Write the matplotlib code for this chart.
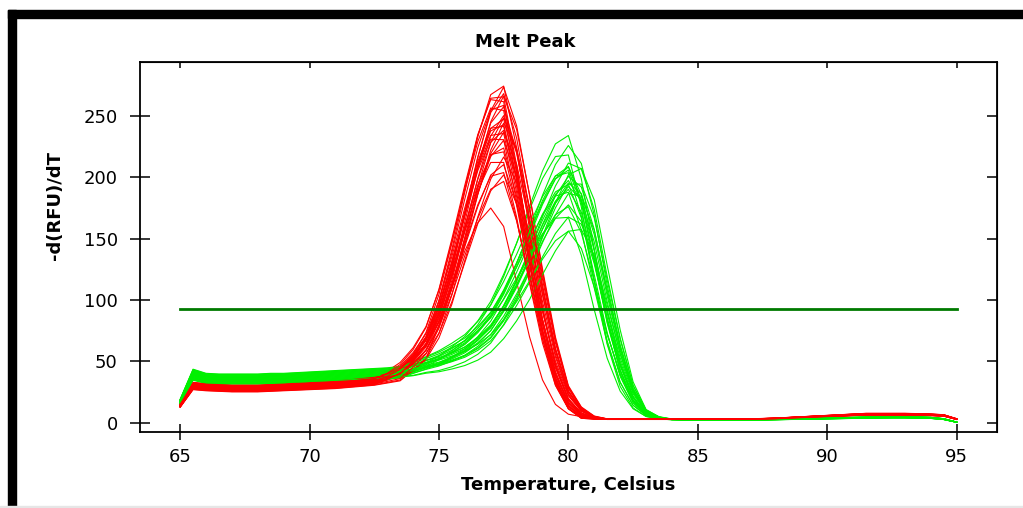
import numpy as np
import matplotlib.pyplot as plt
from matplotlib.patches import Rectangle

# temperature grid of the melt (0.5 C steps)
temps = [65.0, 65.5, 66.0, 66.5, 67.0, 67.5, 68.0, 68.5, 69.0, 69.5,
         70.0, 70.5, 71.0, 71.5, 72.0, 72.5, 73.0, 73.5, 74.0, 74.5,
         75.0, 75.5, 76.0, 76.5, 77.0, 77.5, 78.0, 78.5, 79.0, 79.5,
         80.0, 80.5, 81.0, 81.5, 82.0, 82.5, 83.0, 83.5, 84.0, 84.5,
         85.0, 85.5, 86.0, 86.5, 87.0, 87.5, 88.0, 88.5, 89.0, 89.5,
         90.0, 90.5, 91.0, 91.5, 92.0, 92.5, 93.0, 93.5, 94.0, 94.5,
         95.0]

# red wells: background and peak profiles
red_base = [14, 30, 29, 28.5, 28, 28, 28, 28.5, 29, 29.5,
            30, 30.5, 31, 32, 33, 34, 36, 38, 40, 38,
            34, 30, 26, 22, 18, 14, 11, 8, 6, 5,
            4, 3.5, 3, 3, 3, 3, 3, 3, 3, 3,
            3, 3, 3, 3, 3, 3.2, 3.5, 4, 4.5, 5,
            5.5, 6, 6.5, 7, 7, 7, 7, 6.8, 6.5, 6,
            3]
red_peak_a = [0, 0, 0, 0, 0, 0, 0, 0, 0, 0,
              0, 0, 0, 0, 0, 0, 0.01, 0.03, 0.07, 0.15,
              0.29, 0.47, 0.66, 0.84, 0.97, 0.98, 0.76, 0.50, 0.27, 0.11,
              0.03, 0, 0, 0, 0, 0, 0, 0, 0, 0,
              0, 0, 0, 0, 0, 0, 0, 0, 0, 0,
              0, 0, 0, 0, 0, 0, 0, 0, 0, 0,
              0]
red_peak_b = [0, 0, 0, 0, 0, 0, 0, 0, 0, 0,
              0, 0, 0, 0, 0, 0, 0, 0, 0.03, 0.08,
              0.18, 0.33, 0.52, 0.71, 0.88, 0.99, 0.91, 0.72, 0.49, 0.27,
              0.11, 0.04, 0.01, 0, 0, 0, 0, 0, 0, 0,
              0, 0, 0, 0, 0, 0, 0, 0, 0, 0,
              0, 0, 0, 0, 0, 0, 0, 0, 0, 0,
              0]
red_amp = [266, 262, 257, 254, 250, 247, 244, 240, 237, 234,
           231, 228, 225, 222, 218, 214, 210, 206, 202, 198,
           194, 190, 186, 252, 238, 226, 258, 232]
red_level = [0.92, 1.05, 0.97, 1.08, 0.94, 1.0, 1.1, 0.95, 1.03, 0.9,
             1.06, 0.98, 1.02, 0.93, 1.07, 0.96, 1.04, 0.91, 1.0, 1.09,
             0.95, 1.02, 0.97, 1.05, 0.93, 1.0, 0.98, 1.06]
red_mix = [0.3, 0.8, 0.1, 0.9, 0.2, 0.6, 0.0, 0.75, 0.4, 1.0,
           0.15, 0.5, 0.85, 0.05, 0.7, 0.35, 0.2, 0.95, 0.1, 0.55,
           0.25, 0.8, 0.45, 0.0, 0.9, 0.15, 0.65, 0.3]
# one low red well that peaks early
red_low = [13, 30, 29, 28.5, 28, 28, 28, 28.5, 29, 29.5,
           30, 30.5, 31, 32, 33, 34, 36, 38, 42, 52,
           80, 110, 140, 163, 175, 160, 115, 70, 35, 15,
           7, 5, 4, 3, 3, 3, 3, 3, 3, 3,
           3, 3, 3, 3, 3, 3.2, 3.5, 4, 4.5, 5,
           5.5, 6, 6.5, 7, 7, 7, 7, 6.8, 6.5, 6,
           3]

# green wells
green_base = [17, 39, 36, 35.5, 35.5, 35.5, 35.5, 36, 36, 36.5,
              37, 37.5, 38, 38.5, 39, 39.5, 40, 41, 42, 42.5,
              42, 41, 39, 37, 34, 31, 27, 23, 19, 16,
              13, 10, 8, 6, 5, 4, 3.2, 3, 2.8, 2.6,
              2.5, 2.5, 2.5, 2.5, 2.5, 2.6, 2.8, 3, 3.2, 3.4,
              3.6, 3.8, 4, 4.2, 4.4, 4.5, 4.5, 4.3, 4, 3,
              0.5]
green_peak_a = [0, 0, 0, 0, 0, 0, 0, 0, 0, 0,
                0, 0, 0, 0, 0, 0, 0, 0, 0.02, 0.04,
                0.07, 0.11, 0.16, 0.23, 0.32, 0.44, 0.58, 0.73, 0.87, 0.97,
                0.99, 0.80, 0.52, 0.28, 0.12, 0.04, 0.01, 0, 0, 0,
                0, 0, 0, 0, 0, 0, 0, 0, 0, 0,
                0, 0, 0, 0, 0, 0, 0, 0, 0, 0,
                0]
green_peak_b = [0, 0, 0, 0, 0, 0, 0, 0, 0, 0,
                0, 0, 0, 0, 0, 0, 0, 0, 0, 0.01,
                0.02, 0.04, 0.07, 0.11, 0.17, 0.26, 0.38, 0.52, 0.68, 0.83,
                0.96, 1.0, 0.88, 0.62, 0.36, 0.15, 0.04, 0.01, 0, 0,
                0, 0, 0, 0, 0, 0, 0, 0, 0, 0,
                0, 0, 0, 0, 0, 0, 0, 0, 0, 0,
                0]
green_amp = [226, 218, 208, 204, 200, 198, 196, 194, 192, 190,
             188, 186, 184, 182, 180, 176, 170, 166, 160, 155,
             150, 146, 200, 188]
green_level = [0.9, 1.08, 0.95, 1.12, 1.0, 0.92, 1.05, 0.98, 1.1, 0.94,
               1.03, 0.89, 1.07, 0.96, 1.01, 1.11, 0.93, 1.04, 0.99, 1.09,
               0.91, 1.06, 0.97, 1.02]
green_mix = [0.2, 0.6, 0.0, 0.8, 0.4, 1.0, 0.3, 0.7, 0.1, 0.5,
             0.9, 0.25, 0.65, 0.45, 0.85, 0.15, 0.55, 0.35, 0.75, 0.05,
             0.95, 0.5, 0.3, 0.7]

threshold = 93
x_ticks = [65, 70, 75, 80, 85, 90, 95]
y_ticks = [0, 50, 100, 150, 200, 250]

T = np.array(temps)


def well(base, pa, pb, amp, level, mix):
    shape = (1 - mix) * np.array(pa) + mix * np.array(pb)
    return level * np.array(base) + amp * shape


fig = plt.figure(figsize=(10.23, 5.08), dpi=100)
ax = fig.add_axes([140 / 1023, 76 / 508, 857 / 1023, 370 / 508])

n = max(len(red_amp), len(green_amp))
for i in range(n):
    if i < len(green_amp):
        ax.plot(T, well(green_base, green_peak_a, green_peak_b, green_amp[i],
                        green_level[i], green_mix[i]),
                color="#00f000", lw=0.8)
    if i < len(red_amp):
        ax.plot(T, well(red_base, red_peak_a, red_peak_b, red_amp[i],
                        red_level[i], red_mix[i]),
                color="#ff0000", lw=0.8)
    if i == 10:
        ax.plot(T, red_low, color="#ff0000", lw=0.8)

ax.plot([temps[0], temps[-1]], [threshold, threshold], color="#007a00", lw=2)

ax.set_xlim(63.45, 96.56)
ax.set_ylim(-7.5, 294)
ax.set_xticks(x_ticks)
ax.set_yticks(y_ticks)
for s in ax.spines.values():
    s.set_linewidth(1.3)
ax.tick_params(axis="y", direction="inout", length=14, width=1.1,
               pad=9, labelsize=13)
ax.tick_params(axis="x", direction="inout", length=11, width=1.1,
               pad=6, labelsize=13)

top = ax.secondary_xaxis("top")
top.set_xticks(x_ticks)
top.tick_params(direction="in", length=4.5, width=1.1, labeltop=False)
right = ax.secondary_yaxis("right")
right.set_yticks(y_ticks)
right.tick_params(direction="in", length=7, width=1.1, labelright=False)

fig.text(525 / 1023, 1 - 42 / 508, "Melt Peak", ha="center", va="center",
         fontsize=13, fontweight="bold")
fig.text(568 / 1023, 1 - 485 / 508, "Temperature, Celsius", ha="center",
         va="center", fontsize=13, fontweight="bold")
fig.text(55 / 1023, 1 - 205 / 508, "-d(RFU)/dT", ha="center", va="center",
         rotation=90, fontsize=13, fontweight="bold")

# black frame on top and left like the screenshot
fig.patches.append(Rectangle((8 / 1023, 0), 8 / 1023, 1 - 10 / 508,
                             transform=fig.transFigure, color="black"))
fig.patches.append(Rectangle((8 / 1023, 1 - 18 / 508), 1, 8 / 508,
                             transform=fig.transFigure, color="black"))
fig.patches.append(Rectangle((0, 0), 1, 2 / 508,
                             transform=fig.transFigure, color="#e6e6e6"))

fig.savefig("out.png", dpi=100)
